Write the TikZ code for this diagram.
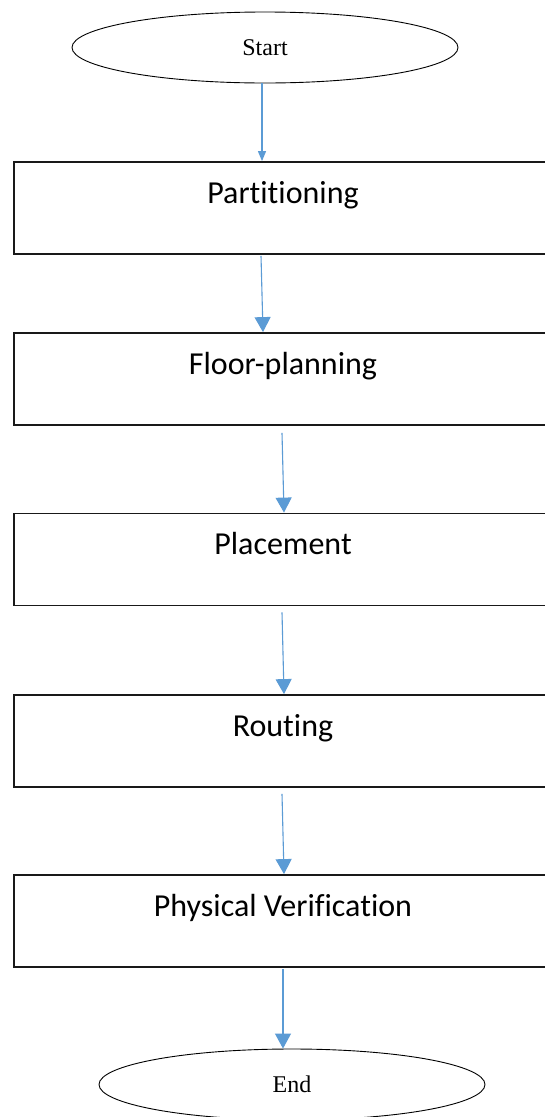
\documentclass[tikz,border=0pt]{standalone}
\usepackage{fontspec}
\setmainfont{Liberation Serif}
\newfontfamily\stagefont[Ligatures={NoCommon}]{Carlito}
\usetikzlibrary{shapes.geometric,arrows.meta}
\definecolor{flowblue}{HTML}{5B9BD5}
\tikzset{
    terminal/.style={draw, ellipse, line width=0.9pt, minimum width=386pt, minimum height=71pt,
        inner sep=0pt, font=\fontsize{24}{24}\selectfont},
    stagebox/.style={draw=black!90, rectangle, line width=1.8pt, minimum width=538pt, inner xsep=0pt,
        inner ysep=0pt, text height=41pt, text depth=51pt, font=\stagefont\fontsize{32}{32}\selectfont},
    flow/.style={flowblue, line width=1.1pt, -{Triangle[width=16pt,length=15pt]}}
}
\begin{document}
\begin{tikzpicture}[x=1pt,y=-1pt]
            \clip (0,0) rectangle (545,1117);
            \fill[white] (0,0) rectangle (545,1117);

            \node[terminal] (start) at (265,47.5) {Start};
            \node[stagebox] (part) at (283,208) {Partitioning};
            \node[stagebox] (floor) at (283,379) {Floor-planning};
            \node[stagebox] (place) at (283,559.5) {Placement};
            \node[stagebox] (route) at (283,741) {Routing};
            \node[stagebox] (verify) at (283,921) {Physical Verification};
            \node[terminal] (stop) at (292,1084.5) {End};

            \draw[flow, -{Triangle[width=8pt,length=10pt]}] ([xshift=-3pt]start.south) -- ([xshift=-21pt]part.north);
            \draw[flow] ([xshift=-22pt,yshift=-1pt]part.south) -- ([xshift=-20pt]floor.north);
            \draw[flow] ([xshift=-1pt,yshift=-7pt]floor.south) -- ([xshift=1pt]place.north);
            \draw[flow] ([xshift=-1pt,yshift=-6pt]place.south) -- ([xshift=1pt]route.north);
            \draw[flow] ([xshift=-1pt,yshift=-6pt]route.south) -- ([xshift=1pt]verify.north);
            \draw[flow] ([yshift=-1pt]verify.south) -- ([xshift=-9pt]stop.north);
        \end{tikzpicture}
\end{document}
